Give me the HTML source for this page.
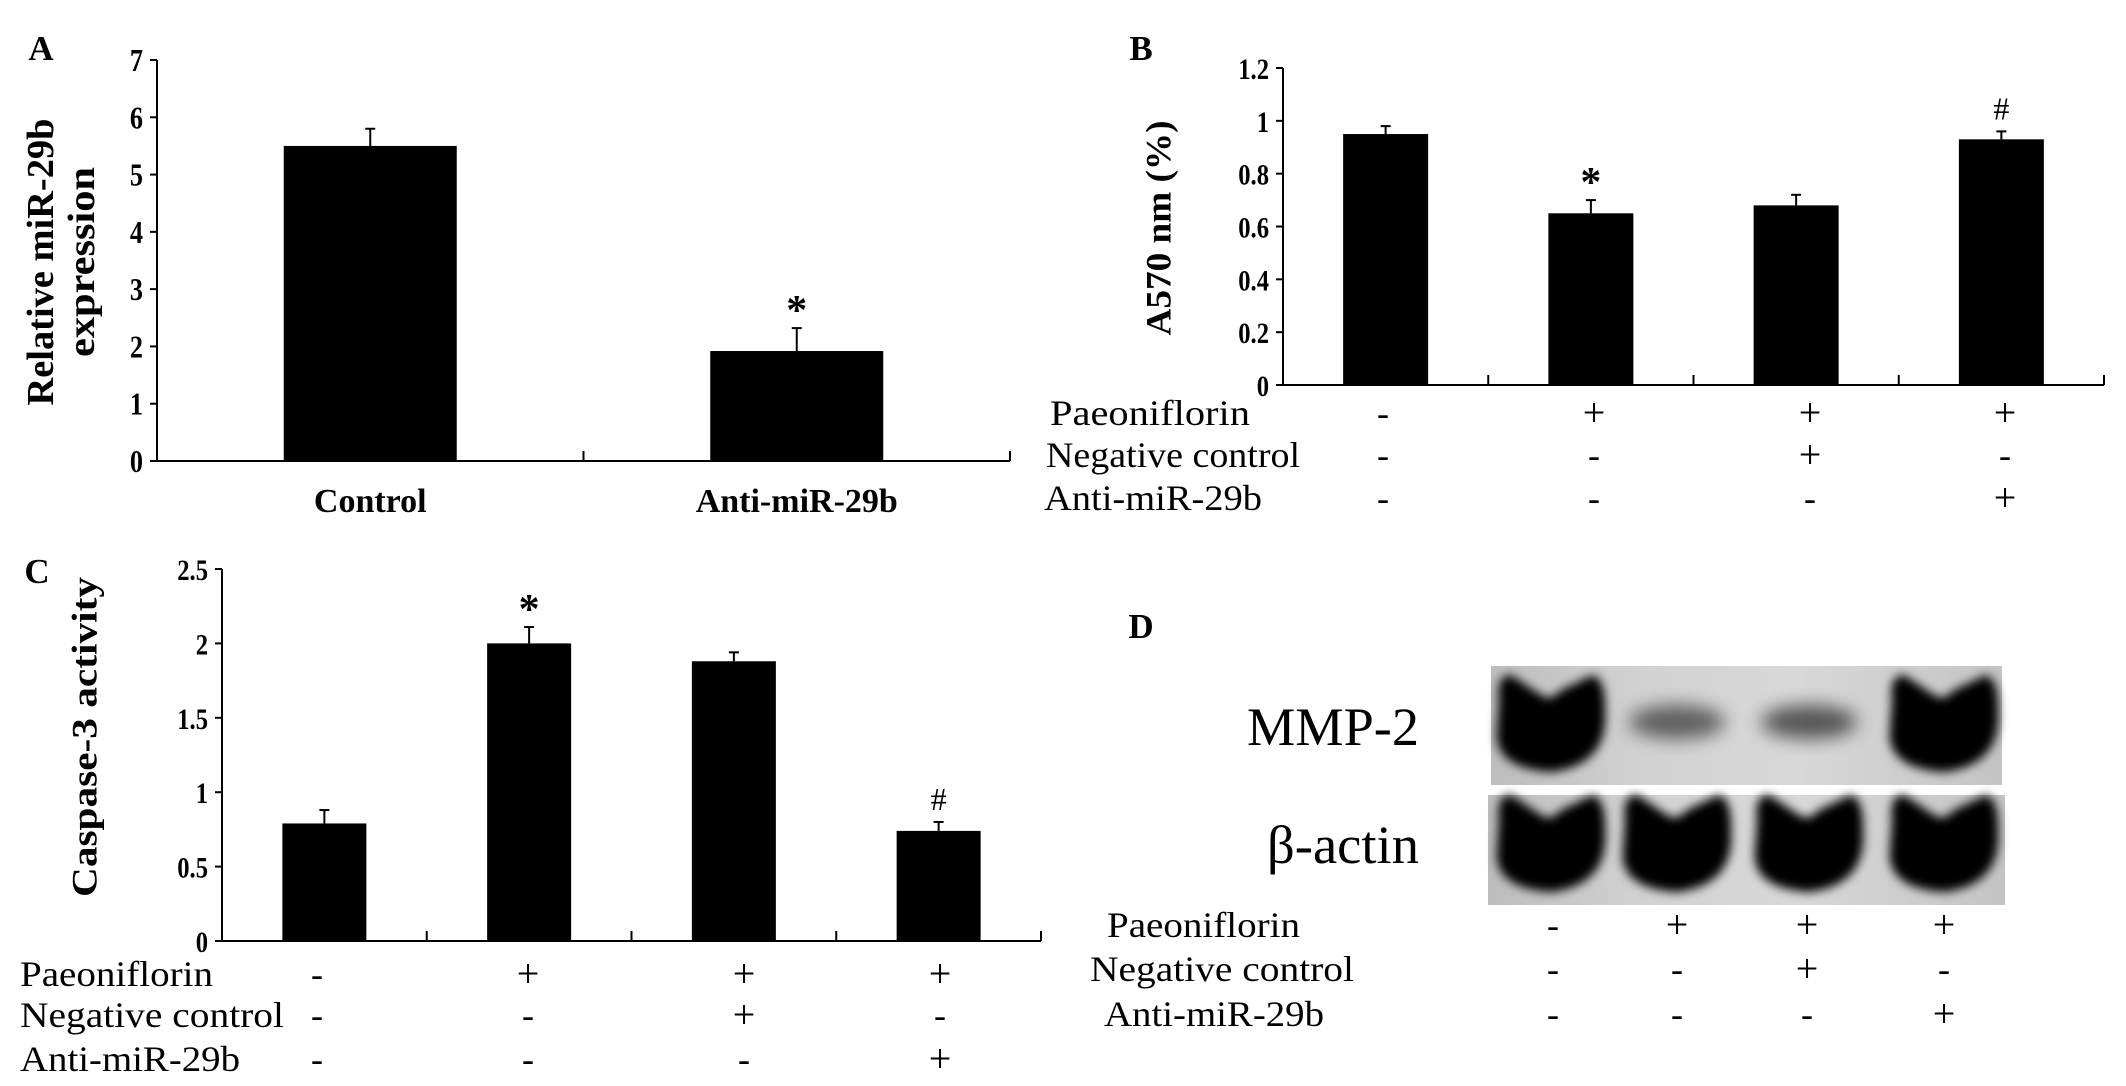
<!DOCTYPE html>
<html><head><meta charset="utf-8"><style>
html,body{margin:0;padding:0;background:#fff;}
svg{display:block;}
text{font-family:"Liberation Serif",serif;fill:#000;}
.b{font-weight:bold;}
</style></head><body>
<svg id="fig" width="2126" height="1086" viewBox="0 0 2126 1086">
<defs>
<filter id="blur" x="-20%" y="-20%" width="140%" height="140%"><feGaussianBlur stdDeviation="5"/></filter>
<filter id="blur2" x="-20%" y="-50%" width="140%" height="200%"><feGaussianBlur stdDeviation="9"/></filter>
<linearGradient id="blotbg" x1="0" x2="1" y1="0" y2="0">
<stop offset="0" stop-color="#bdbdbd"/><stop offset="0.3" stop-color="#d2d2d2"/><stop offset="0.6" stop-color="#d8d8d8"/><stop offset="1" stop-color="#c4c4c4"/>
</linearGradient>
</defs>
<g id="layer"></g>
</svg>
<script>
// Panel A data
const catsA = ["Control", "Anti-miR-29b"];
const valsA = [5.5, 1.92];
const errA = [0.3, 0.4];
const ticksA = [0,1,2,3,4,5,6,7];
const markA = ["", "*"];
// Panel B data
const valsB = [0.95, 0.65, 0.68, 0.93];
const errB = [0.03, 0.05, 0.04, 0.03];
const ticksB = ["0","0.2","0.4","0.6","0.8","1","1.2"];
const markB = ["", "*", "", "#"];
// Panel C data
const valsC = [0.79, 2.0, 1.88, 0.74];
const errC = [0.09, 0.11, 0.06, 0.06];
const ticksC = ["0","0.5","1","1.5","2","2.5"];
const markC = ["", "*", "", "#"];
// Treatment table
const rowLabels = ["Paeoniflorin", "Negative control", "Anti-miR-29b"];
const rowSigns = [["-","+","+","+"],["-","-","+","-"],["-","-","-","+"]];
// Western blot band intensities (0..1)
const mmp2 = [1.0, 0.35, 0.4, 0.95];
const actin = [1.0, 1.0, 1.0, 1.0];

const NS = "http://www.w3.org/2000/svg";
const root = document.getElementById("layer");
function el(tag, attrs, parent, txt){
  const e = document.createElementNS(NS, tag);
  for (const k in attrs) e.setAttribute(k, attrs[k]);
  if (txt !== undefined) e.textContent = txt;
  (parent || root).appendChild(e);
  return e;
}
function line(x1,y1,x2,y2,g,w){ return el("line",{x1,y1,x2,y2,stroke:"#000","stroke-width":w||2},g); }

function barChart(cfg){
  const g = el("g",{});
  
  
  const y = v => cfg.y0 - (v - 0) / cfg.ymax * (cfg.y0 - cfg.ytop);
  const n = cfg.vals.length;
  const cw = (cfg.xend - cfg.x0) / n;
  const xc = i => cfg.x0 + cw * (i + 0.5);
  const ya = line(cfg.x0, cfg.ytop, cfg.x0, cfg.y0, g);
  
  
  cfg.ticks.forEach((t) => {
    const v = parseFloat(t);
    line(cfg.x0 - 7, y(v), cfg.x0, y(v), g);
    const tl = el("text",{x:0, y:0, "text-anchor":"end", "font-size":cfg.tfs, class:"b", transform:`translate(${cfg.x0 - 14},${y(v) + 11}) scale(0.82,1)`}, g, String(t));
    
    
  });
  const xa = line(cfg.x0, cfg.y0, cfg.xend, cfg.y0, g);
  
  
  for (let i = 1; i <= n; i++) line(cfg.x0 + cw * i, cfg.y0 - 10, cfg.x0 + cw * i, cfg.y0, g);
  cfg.vals.forEach((v, i) => {
    const bw = cfg.bw;
    const r = el("rect",{x:xc(i) - bw/2, y:y(v), width:bw, height:cfg.y0 - y(v), fill:"#000"}, g);
    
    
    const te = y(v + cfg.err[i]);
    const eb = el("g",{},g);
    
    
    line(xc(i), y(v), xc(i), te, eb, 2);
    line(xc(i) - 5, te, xc(i) + 5, te, eb, 2);
    if (cfg.marks[i]) {
      const isStar = cfg.marks[i] === "*";
      const m = el("text",{x:xc(i), y:te - (isStar ? 4 : 12), "text-anchor":"middle", "font-size": isStar ? 42 : 32, class: isStar ? "b" : ""}, g, cfg.marks[i]);
      
      
    }
  });
  return {g, xc};
}

function table(cfg){
  const g = el("g",{});
  
  
  rowLabels.forEach((lab, r) => {
    const t = el("text",{x:cfg.lx[r], y:cfg.ry[r] + 12, "font-size":36, textLength:cfg.lw[r], lengthAdjust:"spacingAndGlyphs"}, g, lab);
    
    
    rowSigns[r].forEach((s, c) => {
      const st = el("text",{x:cfg.cx[c], y:cfg.ry[r] + (s === "+" ? 13 : 12), "text-anchor":"middle", "font-size": s === "+" ? 40 : 36}, g, s);
      
      
    });
  });
}

function letter(ch, x, y){
  const t = el("text",{x, y, "font-size":35, class:"b", "text-anchor":"middle"}, root, ch);
  
  
}
function ytitle(lines, x, y, fs, len){
  const g = el("g",{transform:`translate(${x},${y}) rotate(-90)`});
  
  
  lines.forEach((l, i) => {
    el("text",{x:0, y:(i - (lines.length-1)/2) * 41 + fs*0.35, "text-anchor":"middle", "font-size":fs, class:"b", textLength:len[i], lengthAdjust:"spacingAndGlyphs"}, g, l);
  });
}

// ---- Panel A
letter("A", 41, 60);
const A = barChart({name:"chart-a", x0:157, xend:1010, ytop:60, y0:461, ymax:7, vals:valsA, err:errA, bw:173, ticks:ticksA, marks:markA, tfs:32});
catsA.forEach((c, i) => {
  const t = el("text",{x:A.xc(i), y:512, "text-anchor":"middle", "font-size":34, class:"b"}, A.g, c);
  
  
});
ytitle(["Relative miR-29b", "expression"], 60, 262, 38, [287, 190]);

// ---- Panel B
letter("B", 1141, 60);
barChart({name:"chart-b", x0:1283, xend:2104, ytop:68, y0:385, ymax:1.2, vals:valsB, err:errB, bw:85, ticks:ticksB, marks:markB, tfs:30});
ytitle(["A570 nm (%)"], 1158, 228, 36, [215]);
table({name:"treatment-table-b", lx:[1050,1046,1044], lw:[200,254,218], ry:[413,455,498], cx:[1383,1594,1810,2005]});

// ---- Panel C
letter("C", 37, 583);
barChart({name:"chart-c", x0:222, xend:1041, ytop:569, y0:941, ymax:2.5, vals:valsC, err:errC, bw:84, ticks:ticksC, marks:markC, tfs:30});
ytitle(["Caspase-3 activity"], 84, 737, 36, [320]);
table({name:"treatment-table-c", lx:[20,20,20], lw:[193,264,220], ry:[974,1015,1059], cx:[317,528,744,940]});

// ---- Panel D
letter("D", 1141, 638);
const blot = el("g",{});


const laneX = [1551, 1677, 1809, 1944];
function blotStrip(x, y, w, h, vals, name, cy){
  const s = el("g",{}, blot);
  
  
  el("rect",{x, y, width:w, height:h, fill:"url(#blotbg)"}, s);
  vals.forEach((v, i) => {
    const cx = laneX[i];
    if (v > 0.7) {
      el("path",{d:`M${cx-52},${cy-30} Q${cx-55},${cy-55} ${cx-40},${cy-55} L${cx-10},${cy-35} Q${cx},${cy-28} ${cx+10},${cy-40} L${cx+42},${cy-55} Q${cx+55},${cy-50} ${cx+54},${cy-20} Q${cx+58},${cy+35} ${cx},${cy+42} Q${cx-58},${cy+38} ${cx-54},${cy} Z`, fill:"#000", filter:"url(#blur)"}, s);
    } else {
      el("ellipse",{cx, cy:cy-8, rx:48, ry:17, fill:"#000", opacity:v + 0.2, filter:"url(#blur2)"}, s);
    }
  });
}
blotStrip(1491, 666, 511, 119, mmp2, "mmp2-band-strip", 730);
blotStrip(1488, 795, 517, 110, actin, "beta-actin-band-strip", 850);
const l1 = el("text",{x:1419, y:745, "text-anchor":"end", "font-size":54, textLength:172, lengthAdjust:"spacingAndGlyphs"}, root, "MMP-2");


const l2 = el("text",{x:1419, y:863, "text-anchor":"end", "font-size":54, textLength:152, lengthAdjust:"spacingAndGlyphs"}, root, "β-actin");


table({name:"treatment-table-d", lx:[1107,1090,1104], lw:[193,264,220], ry:[925,969,1014], cx:[1553,1677,1807,1944]});
</script>
</body></html>
